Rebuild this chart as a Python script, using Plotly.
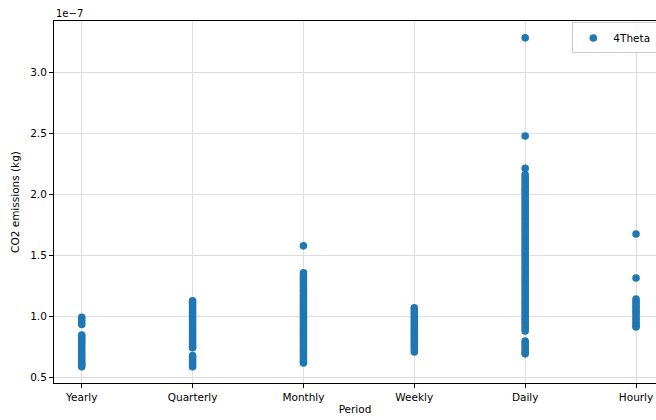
import plotly.graph_objects as go

categories = ["Yearly", "Quarterly", "Monthly", "Weekly", "Daily", "Hourly"]

# CO2 emissions in units of 1e-7 kg
yearly = [0.99, 0.97, 0.95, 0.93, 0.845, 0.83, 0.81, 0.79, 0.77, 0.75, 0.73, 0.71,
          0.69, 0.67, 0.65, 0.63, 0.61, 0.60, 0.585]
quarterly = [1.125, 1.11, 1.09, 1.07, 1.05, 1.03, 1.01, 0.99, 0.97, 0.95, 0.93, 0.91,
             0.89, 0.87, 0.85, 0.83, 0.81, 0.79, 0.77, 0.75, 0.74,
             0.675, 0.66, 0.64, 0.62, 0.60, 0.585]
monthly = [1.575, 1.355, 1.33, 1.31, 1.29, 1.27, 1.25, 1.23, 1.21, 1.19, 1.17, 1.15,
           1.13, 1.11, 1.09, 1.07, 1.05, 1.03, 1.01, 0.99, 0.97, 0.95, 0.93, 0.91,
           0.89, 0.87, 0.85, 0.83, 0.81, 0.79, 0.77, 0.75, 0.73, 0.71, 0.69, 0.67,
           0.65, 0.63, 0.615]
weekly = [1.068, 1.05, 1.03, 1.01, 0.99, 0.97, 0.95, 0.93, 0.91, 0.89, 0.87, 0.85,
          0.83, 0.81, 0.79, 0.77, 0.75, 0.73, 0.705]
daily = [3.28, 2.475, 2.21, 2.16, 2.14, 2.12, 2.10, 2.08, 2.06, 2.04, 2.02, 2.00,
         1.98, 1.96, 1.94, 1.92, 1.90, 1.88, 1.86, 1.84, 1.82, 1.80, 1.78, 1.76,
         1.74, 1.72, 1.70, 1.68, 1.66, 1.64, 1.62, 1.60, 1.58, 1.56, 1.54, 1.52,
         1.50, 1.48, 1.46, 1.44, 1.42, 1.40, 1.38, 1.36, 1.34, 1.32, 1.30, 1.28,
         1.26, 1.24, 1.22, 1.20, 1.18, 1.16, 1.14, 1.12, 1.10, 1.08, 1.06, 1.04,
         1.02, 1.00, 0.98, 0.96, 0.94, 0.92, 0.90, 0.878,
         0.795, 0.78, 0.76, 0.74, 0.72, 0.70, 0.69]
hourly = [1.672, 1.312, 1.14, 1.12, 1.10, 1.08, 1.06, 1.04, 1.02, 1.00, 0.98, 0.96,
          0.94, 0.92, 0.91]

series = [yearly, quarterly, monthly, weekly, daily, hourly]

xs, ys = [], []
for i, vals in enumerate(series):
    xs += [i] * len(vals)
    ys += vals

font = "DejaVu Sans, sans-serif"

fig = go.Figure()
fig.add_trace(go.Scatter(
    x=xs, y=ys, mode="markers", name="4Theta\u00a0\u00a0",
    marker=dict(color="#1f77b4", size=7.6, line=dict(width=0)),
))

fig.update_layout(
    width=656, height=420,
    margin=dict(l=54, r=0, t=21, b=37, autoexpand=False),
    plot_bgcolor="white", paper_bgcolor="white",
    font=dict(family=font, size=10, color="black"),
    showlegend=True,
    legend=dict(
        x=0.861, y=0.996, xanchor="left", yanchor="top",
        bordercolor="#cccccc", borderwidth=1, bgcolor="rgba(255,255,255,0.8)",
        font=dict(size=10.5, color="black"), itemwidth=30,
    ),
    annotations=[dict(
        text="1e\u22127", xref="paper", yref="paper", x=0, y=1,
        xanchor="left", yanchor="bottom", showarrow=False,
        font=dict(size=10), yshift=0,
    )],
)
fig.update_xaxes(
    range=[-0.25, 5.18], tickmode="array", tickvals=list(range(len(categories))),
    ticktext=categories, showline=True, linecolor="black", linewidth=1, mirror=True,
    ticks="outside", ticklen=4, tickcolor="black", showgrid=True, gridcolor="#dddddd",
    gridwidth=1, zeroline=False, automargin=False, tickfont=dict(size=10.5),
    title=dict(text="Period", standoff=4, font=dict(size=10.5)),
)
fig.update_yaxes(
    range=[0.451, 3.418], tickmode="array", tickvals=[0.5, 1.0, 1.5, 2.0, 2.5, 3.0],
    ticktext=["0.5", "1.0", "1.5", "2.0", "2.5", "3.0"],
    showline=True, linecolor="black", linewidth=1, mirror=False,
    ticks="outside", ticklen=4, tickcolor="black", showgrid=True, gridcolor="#dddddd",
    gridwidth=1, zeroline=False, automargin=False, tickfont=dict(size=10.5),
    title=dict(text="CO2 emissions (kg)", standoff=8, font=dict(size=10.5)),
)

fig.write_html(
    "out.html",
    config={"displayModeBar": False},
    post_script="document.body.style.margin='0';document.body.style.overflow='hidden';",
)
